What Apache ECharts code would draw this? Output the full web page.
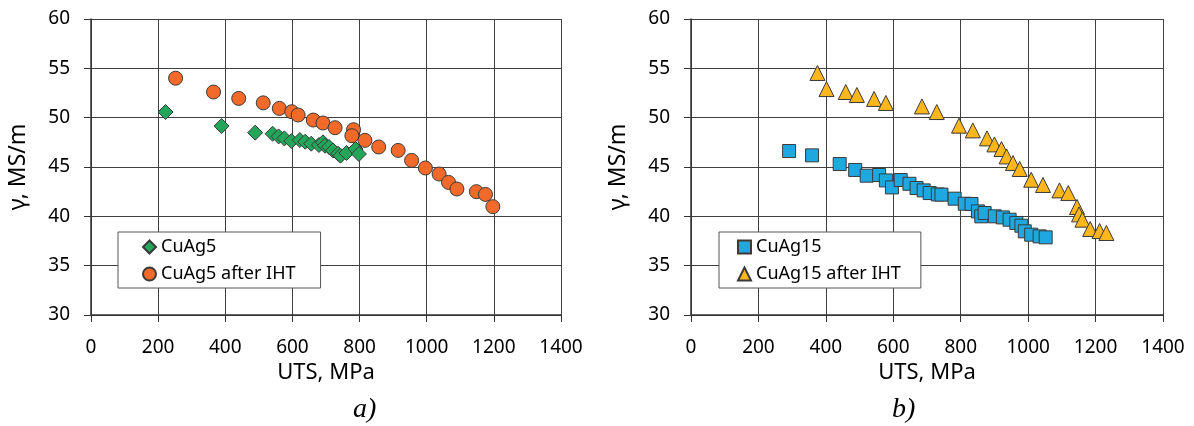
<!DOCTYPE html>
<html><head><meta charset="utf-8">
<script src="https://cdn.jsdelivr.net/npm/echarts@6/dist/echarts.min.js"></script>
<style>html,body{margin:0;padding:0;background:#fff}#c{width:1194px;height:426px}</style>
</head><body><div id="c"></div>
<script>
// Data (UTS MPa, conductivity MS/m)
const cuAg5 = [[222,50.57],[389,49.15],[489,48.48],[541,48.37],[559,48.1],[576,47.9],[597,47.63],[622,47.73],[638,47.56],[656,47.36],[679,47.23],[691,47.5],[697,47.16],[709,47.03],[721,46.68],[736,46.35],[743,46.15],[761,46.42],[788,46.82],[798,46.32]];
const cuAg5IHT = [[252,54.0],[365,52.6],[440,51.95],[513,51.5],[561,50.94],[598,50.6],[617,50.27],[662,49.76],[691,49.46],[727,48.98],[782,48.78],[777,48.17],[816,47.7],[857,47.03],[915,46.68],[955,45.67],[996,44.9],[1037,44.29],[1065,43.44],[1090,42.77],[1148,42.5],[1175,42.22],[1197,40.98]];
const cuAg15 = [[291,46.62],[359,46.18],[441,45.3],[487,44.7],[521,44.12],[558,44.19],[578,43.64],[596,42.93],[622,43.68],[648,43.3],[669,42.87],[690,42.63],[708,42.36],[732,42.22],[743,42.2],[782,41.79],[812,41.28],[832,41.25],[851,40.5],[861,40.0],[871,40.34],[901,40.0],[925,39.89],[945,39.66],[965,39.33],[980,39.05],[990,38.48],[1009,38.14],[1034,37.97],[1052,37.87]];
const cuAg15IHT = [[375,54.53],[402,52.9],[459,52.6],[492,52.3],[543,51.9],[578,51.49],[685,51.14],[729,50.57],[795,49.19],[836,48.71],[878,47.9],[900,47.29],[921,46.82],[936,46.07],[955,45.4],[975,44.8],[1009,43.71],[1044,43.18],[1093,42.63],[1119,42.36],[1145,40.95],[1151,40.2],[1161,39.66],[1184,38.72],[1212,38.51],[1232,38.31]];
const seriesNames = ['CuAg5','CuAg5 after IHT','CuAg15','CuAg15 after IHT'];
const xTitle = 'UTS, MPa';
const yTitle = 'γ, MS/m';
const captions = ['a)','b)'];

const font = 'Noto Sans';
const gridColor = '#404040';
const txt = '#000';
function xAx(i){return {gridIndex:i,type:'value',min:0,max:1400,interval:200,
  name:xTitle,nameLocation:'middle',nameGap:47,nameTextStyle:{fontFamily:font,fontSize:22,color:txt},
  axisLine:{onZero:false,lineStyle:{color:'#333',width:1.5}},axisTick:{show:true,length:7,lineStyle:{color:'#333'}},
  axisLabel:{fontFamily:font,fontSize:19,color:txt,margin:23,formatter:v=>String(v)},
  splitLine:{show:true,lineStyle:{color:gridColor,width:1}}};}
function yAx(i){return {gridIndex:i,type:'value',min:30,max:60,interval:5,
  name:yTitle,nameLocation:'middle',nameGap:61,nameTextStyle:{fontFamily:font,fontSize:23,color:txt},
  axisLine:{show:true,lineStyle:{color:'#333',width:1.5}},axisTick:{show:true,length:7,lineStyle:{color:'#333'}},
  axisLabel:{fontFamily:font,fontSize:19,color:txt,margin:21,formatter:v=>String(v)},
  splitLine:{show:true,lineStyle:{color:gridColor,width:1}}};}
function sc(name,data,i,symbol,color,size){return {name,type:'scatter',xAxisIndex:i,yAxisIndex:i,data,symbol,symbolSize:size,
  itemStyle:{color,borderColor:'#3a3a3a',borderWidth:1,opacity:1}};}
const legendBase = {orient:'vertical',backgroundColor:'#fff',borderColor:'#555',borderWidth:1,
  itemWidth:13,itemHeight:13,itemGap:9,textStyle:{fontFamily:font,fontSize:18,color:txt}};
const chart = echarts.init(document.getElementById('c'));
chart.setOption({
  animation:false,
  grid:[{left:91,top:19,width:470,height:296},{left:691,top:19,width:472,height:296}],
  xAxis:[xAx(0),xAx(1)],
  yAxis:[yAx(0),yAx(1)],
  legend:[Object.assign({},legendBase,{left:118,top:232,padding:[6,25,5,24],data:[seriesNames[0],seriesNames[1]]}),
          Object.assign({},legendBase,{left:719,top:232,padding:[6,20,5,18],data:[seriesNames[2],seriesNames[3]]})],
  graphic:[{type:'text',left:353,top:396,style:{text:captions[0],font:'italic 28px "Liberation Serif"',fill:txt}},
           {type:'text',left:892,top:396,style:{text:captions[1],font:'italic 28px "Liberation Serif"',fill:txt}}],
  series:[sc(seriesNames[0],cuAg5,0,'diamond','#23a55a',15),
          sc(seriesNames[1],cuAg5IHT,0,'circle','#f26a2a',14),
          sc(seriesNames[2],cuAg15,1,'rect','#1fa8df',13),
          sc(seriesNames[3],cuAg15IHT,1,'triangle','#fdb61c',15)]
});
</script></body></html>
